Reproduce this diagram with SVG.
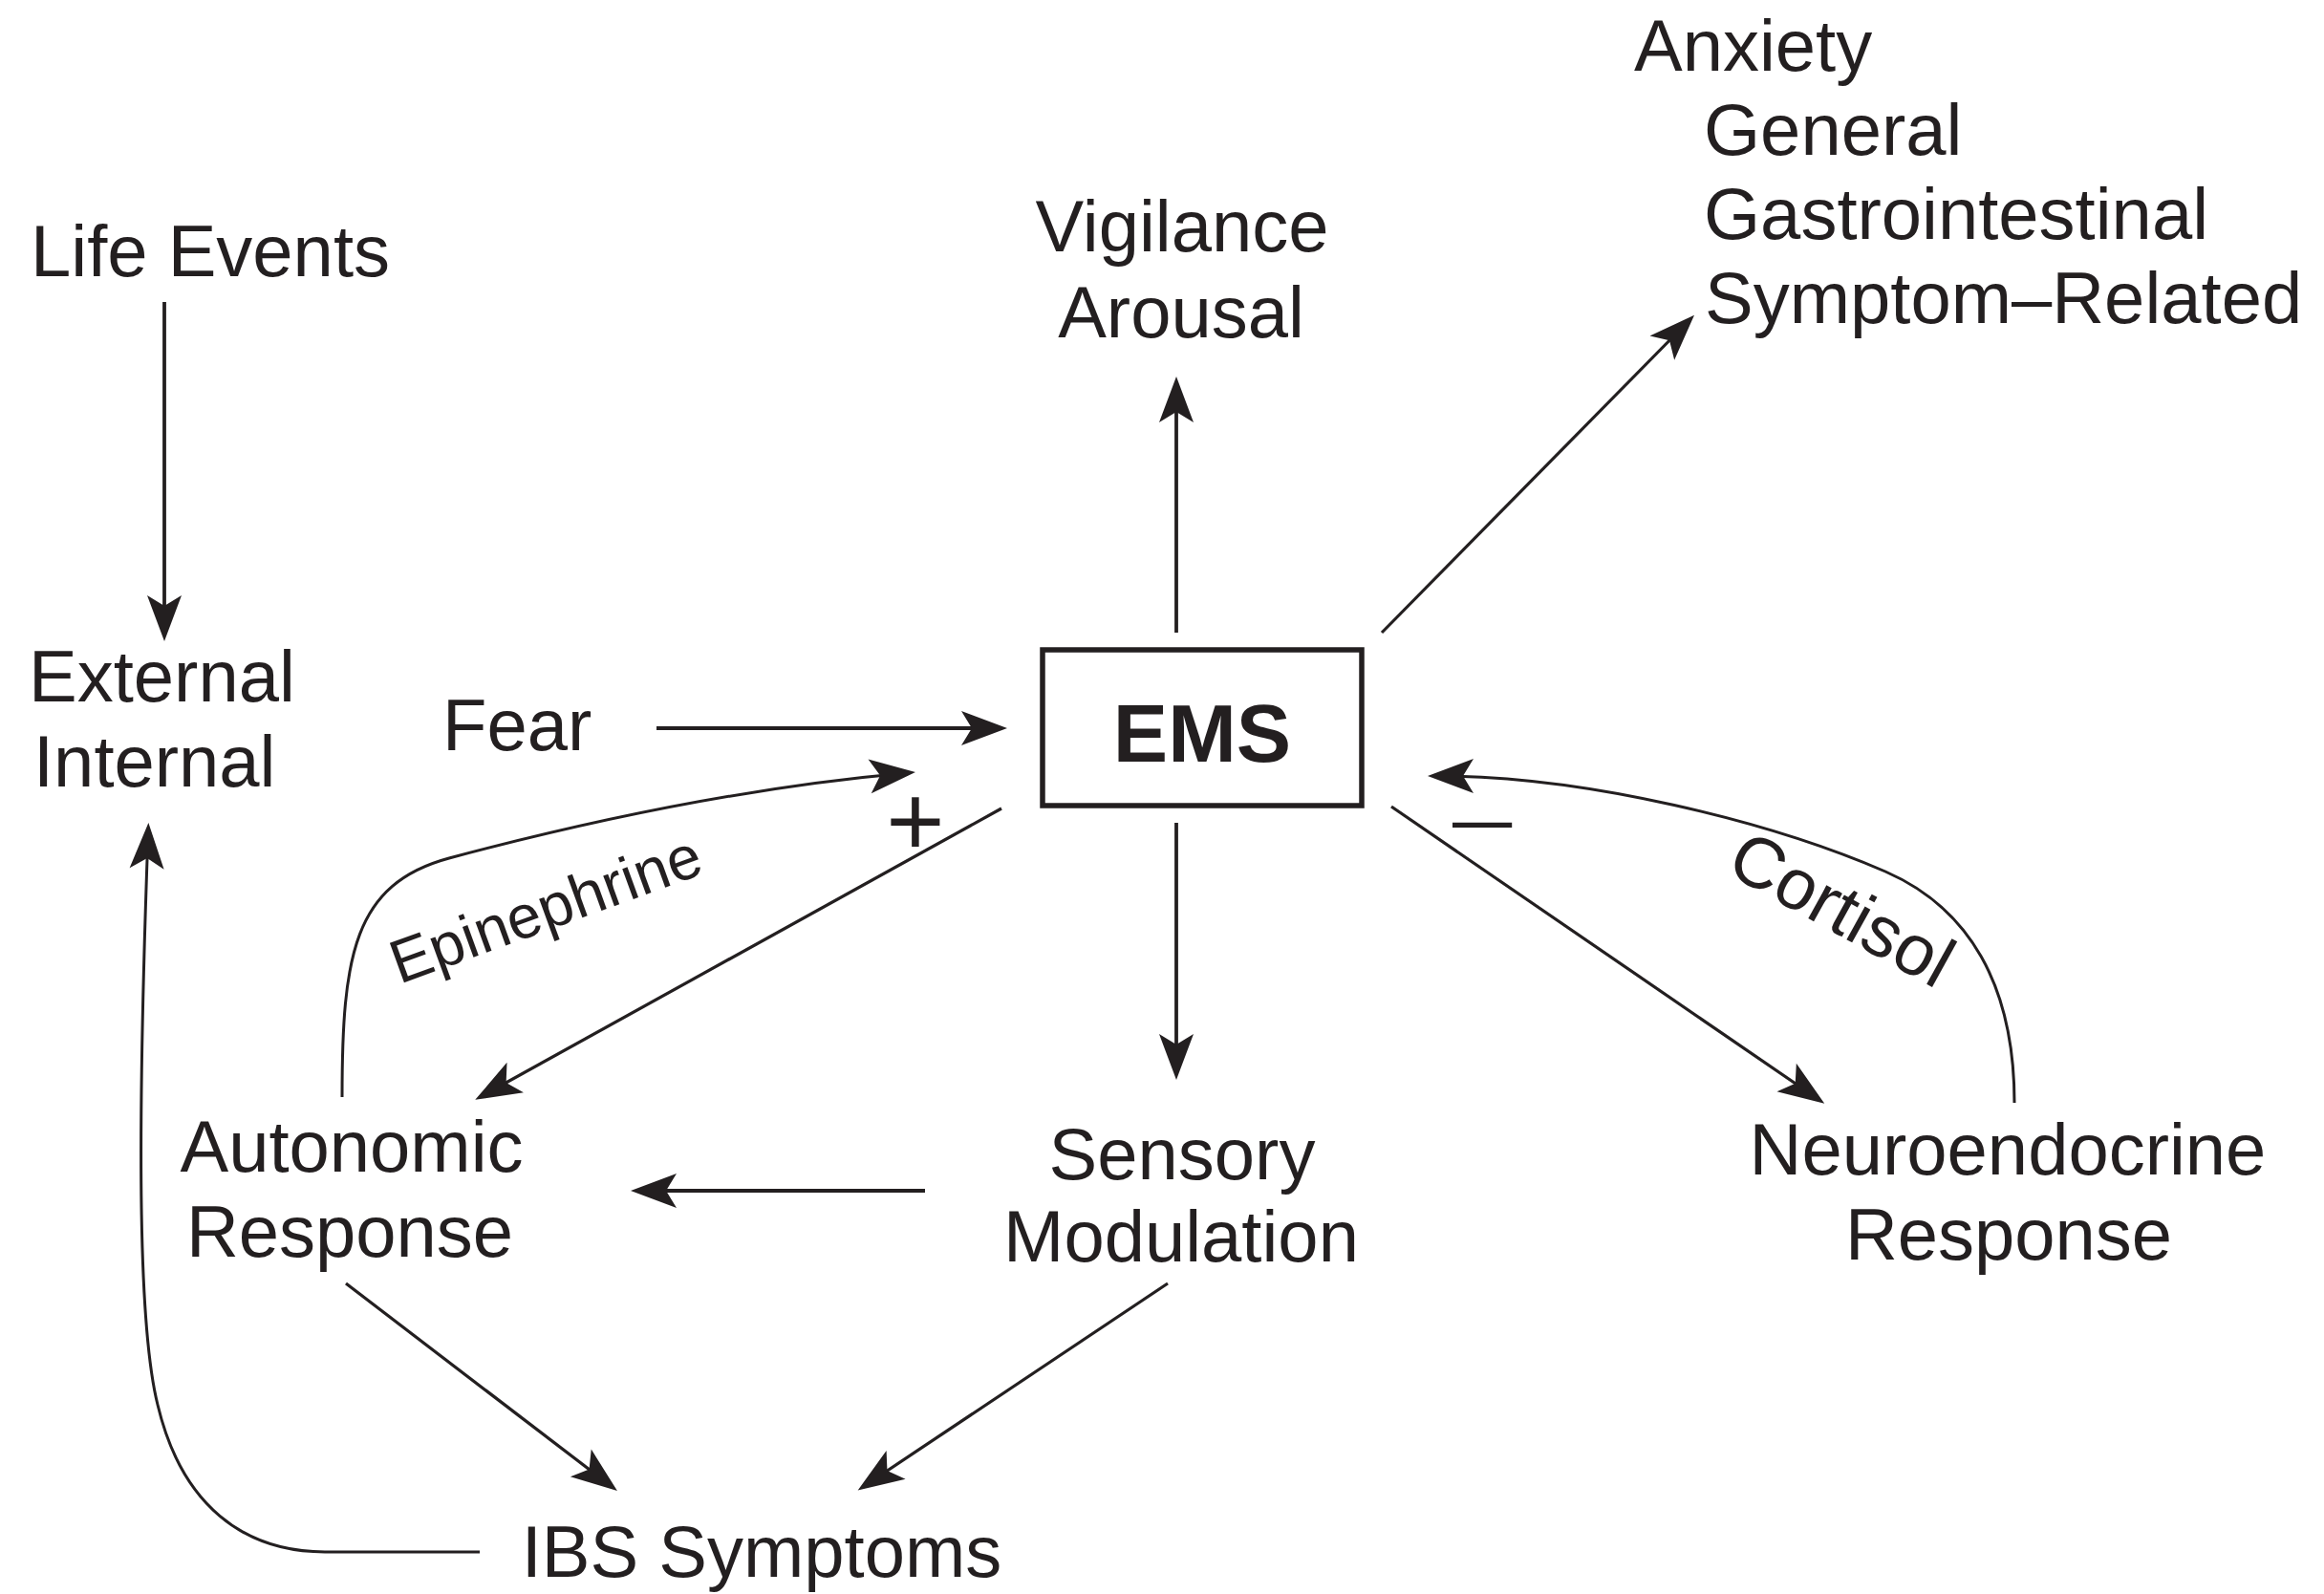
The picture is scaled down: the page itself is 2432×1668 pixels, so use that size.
<svg xmlns="http://www.w3.org/2000/svg" width="2432" height="1668" viewBox="0 0 2432 1668">
<style>
  text { font-family: "Liberation Sans", Arial, Helvetica, sans-serif; fill: #231f20; }
  .lbl { font-size: 76px; }
  .mid { text-anchor: middle; }
  .ems { font-size: 86px; font-weight: bold; text-anchor: middle; }
  .tag { font-size: 64px; }
  .ln { fill: none; stroke: #231f20; stroke-width: 3.8; marker-end: url(#ah); }
  .dg { fill: none; stroke: #231f20; stroke-width: 3.2; marker-end: url(#ah); }
  .cv { fill: none; stroke: #231f20; stroke-width: 3; marker-end: url(#ah); }
</style>
<defs>
  <marker id="ah" markerUnits="userSpaceOnUse" viewBox="-45 -25 60 50" refX="0" refY="0" markerWidth="60" markerHeight="50" orient="auto">
    <path d="M 10 0 L -38 -18 L -27 0 L -38 18 Z" fill="#231f20"/>
  </marker>
</defs>
<rect width="2432" height="1668" fill="#ffffff"/>

<g id="connectors">
  <path class="ln" d="M 172 316 L 172 661"/>
  <path class="ln" d="M 687 762 L 1044 762"/>
  <path class="ln" d="M 1231 662 L 1231 404"/>
  <path class="dg" d="M 1446 662 L 1766 337"/>
  <path class="ln" d="M 1231 861 L 1231 1120"/>
  <path class="ln" d="M 968 1246 L 670 1246"/>
  <path class="dg" d="M 1048 846 L 506 1146"/>
  <path class="dg" d="M 1456 844 L 1901 1149"/>
  <path class="dg" d="M 362 1343 L 638 1554"/>
  <path class="dg" d="M 1222 1343 L 906 1554"/>
  <path class="cv" d="M 358 1148 C 358 1000, 370 925, 470 898 C 620 858, 790 823, 948 809"/>
  <path class="cv" d="M 2108 1154 C 2108 1030, 2060 950, 1973 912 C 1853 860, 1660 812, 1504 812"/>
  <path class="cv" d="M 502 1624 L 340 1624 C 255 1624, 190 1575, 165 1470 C 145 1390, 143 1200, 155 871"/>
</g>

<g id="node-life-events"><text class="lbl" x="32" y="289">Life Events</text></g>
<g id="node-external-internal">
  <text class="lbl" x="30" y="734">External</text>
  <text class="lbl" x="35" y="823">Internal</text>
</g>
<g id="node-fear"><text class="lbl" x="463" y="785">Fear</text></g>
<g id="node-ems">
  <rect x="1091" y="680" width="334" height="163" fill="none" stroke="#231f20" stroke-width="5.5"/>
  <text class="ems" x="1258" y="797">EMS</text>
</g>
<g id="node-vigilance">
  <text class="lbl mid" x="1237" y="263">Vigilance</text>
  <text class="lbl mid" x="1236" y="353">Arousal</text>
</g>
<g id="node-anxiety">
  <text class="lbl" x="1710" y="74">Anxiety</text>
  <text class="lbl" x="1783" y="162">General</text>
  <text class="lbl" x="1783" y="250">Gastrointestinal</text>
  <text class="lbl" x="1784" y="338">Symptom–Related</text>
</g>
<g id="node-sensory">
  <text class="lbl mid" x="1237" y="1234">Sensory</text>
  <text class="lbl mid" x="1236" y="1320">Modulation</text>
</g>
<g id="node-autonomic">
  <text class="lbl mid" x="368" y="1226">Autonomic</text>
  <text class="lbl mid" x="366" y="1315">Response</text>
</g>
<g id="node-neuroendocrine">
  <text class="lbl mid" x="2101" y="1229">Neuroendocrine</text>
  <text class="lbl mid" x="2102" y="1318">Response</text>
</g>
<g id="node-ibs"><text class="lbl mid" x="797" y="1650">IBS Symptoms</text></g>

<g id="edge-labels">
  <text class="tag" transform="translate(418 1030) rotate(-20)">Epinephrine</text>
  <text class="lbl" transform="translate(1804 912) rotate(29)" style="font-size:75px">Cortisol</text>
  <text x="958" y="895" style="font-size:105px" text-anchor="middle">+</text>
  <text transform="translate(1520 862) scale(1 0.7)" x="0" y="30.4" style="font-size:112px">–</text>
</g>
</svg>
